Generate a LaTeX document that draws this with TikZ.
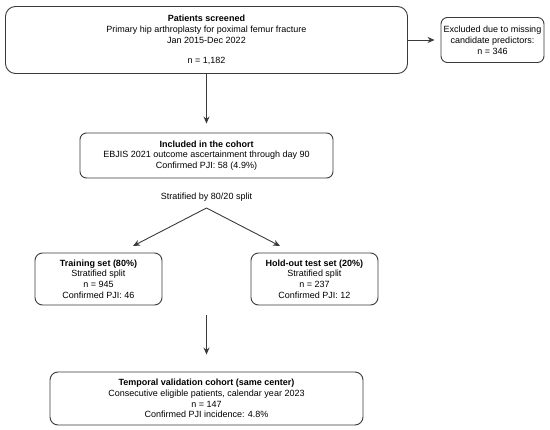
\documentclass[tikz,border=0pt]{standalone}
\usepackage{fontspec}
\setmainfont{Liberation Sans}
\usetikzlibrary{arrows.meta}
\definecolor{linec}{HTML}{3A3A3A}
\tikzset{
  box/.style={draw=linec, line width=0.9pt, rounded corners=#1, align=center,
    inner sep=0pt, fill=white, font=\fontsize{9}{10.8}\selectfont},
  box/.default=7pt,
  arr/.style={draw=linec, line width=0.9pt, -{Stealth[length=7pt,width=6pt]}},
  lbl/.style={inner sep=0pt, font=\fontsize{9}{10.8}\selectfont}
}
\begin{document}
\begin{tikzpicture}[x=1pt,y=-1pt]
\useasboundingbox (0,0) rectangle (550,430);
\node[box=10pt, minimum width=402pt, minimum height=67pt] (screened) at (206.5,40)
  {\textbf{Patients screened}\\Primary hip arthroplasty for poximal femur fracture\\Jan 2015-Dec 2022\\[10pt]n = 1,182};
\node[box=6.5pt, minimum width=103pt, minimum height=45pt] (excluded) at (492.5,40)
  {Excluded due to missing\\candidate predictors:\\n = 346};
\node[box=6.5pt, minimum width=253pt, minimum height=45pt] (included) at (206.5,155.5)
  {\textbf{Included in the cohort}\\EBJIS 2021 outcome ascertainment through day 90\\Confirmed PJI: 58 (4.9\%)};
\node[lbl] (strat) at (206.5,197) {Stratified by 80/20 split};
\coordinate (split) at (206.5,208);
\coordinate (tipL) at (133,246);
\coordinate (tipR) at (280,246);
\node[box=7.5pt, minimum width=127pt, minimum height=52pt] (training) at (98.5,279)
  {\textbf{Training set (80\%)}\\Stratified split\\n = 945\\Confirmed PJI: 46};
\node[box=7.5pt, minimum width=127pt, minimum height=52pt] (holdout) at (314.5,279)
  {\textbf{Hold-out test set (20\%)}\\Stratified split\\n = 237\\Confirmed PJI: 12};
\coordinate (vstart) at (206.5,315);
\node[box=8pt, minimum width=313pt, minimum height=53pt] (temporal) at (206.5,398.5)
  {\textbf{Temporal validation cohort (same center)}\\Consecutive eligible patients, calendar year 2023\\n = 147\\Confirmed PJI incidence: 4.8\%};
\draw[arr, shorten >=6pt] (screened.east) -- (excluded.west);
\draw[arr, shorten >=9pt] (screened.south) -- (included.north);
\draw[arr] (split) -- (tipL);
\draw[arr] (split) -- (tipR);
\draw[arr, shorten >=17pt] (vstart) -- (temporal.north);
\end{tikzpicture}
\end{document}
